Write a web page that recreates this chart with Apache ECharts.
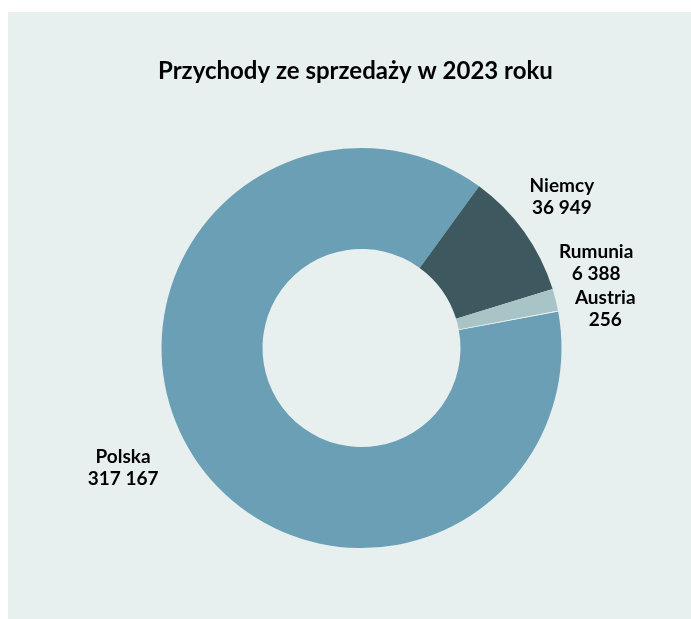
<!DOCTYPE html>
<html lang="pl">
<head>
  <meta charset="UTF-8">
  <title>Przychody ze sprzedaży w 2023 roku</title>
  <style>
    body{
      margin: 0;
      width: 691px;
      height: 619px;
      overflow: hidden;
      background-color: #fff;
    }
    #chart{
      position: absolute;
      left: 8px;
      top: 12px;
      width: 683px;
      height: 607px;
      background-color: #e7f0ef;
    }
  </style>
</head>
<body>
  <div id="chart"></div>
  <script src="https://cdn.jsdelivr.net/npm/echarts@6/dist/echarts.min.js"></script>
  <script>
// dane
const countries = ['Polska', 'Niemcy', 'Rumunia', 'Austria'];
const revenue = [317167, 36949, 6388, 256];

const colors = ['#6a9fb5', '#3d585e', '#a9c4c7', '#eef4f4'];
// przesunięcie etykiet względem środka wycinka [dx, dy]
const labelNudge = [[-27, -14], [-3, -6], [-8, -25], [-2, 7]];

const pieCenter = [353.5, 336];
const startAngle = 10.5; // stopnie, jak w echarts (od godz. 3, przeciwnie do wskazówek)
const labelRadius = 250;

let chart = echarts.init(document.getElementById('chart'));

// format "317 167"
function fmt(v) {
  return String(v).replace(/\B(?=(\d{3})+(?!\d))/g, ' ');
}

// środkowy kąt każdego wycinka (w stopniach od godz. 12, zgodnie z ruchem wskazówek)
const total = revenue.reduce((a, b) => a + b, 0);
let acc = 90 - startAngle;
const midAngles = revenue.map(v => {
  let span = v / total * 360;
  let mid = acc + span / 2;
  acc += span;
  return mid;
});

chart.setOption({
  title: {
    text: 'Przychody ze sprzedaży w 2023 roku',
    left: 145,
    top: 42,
    textStyle: {
      fontFamily: 'Lato',
      fontWeight: 'bold',
      fontSize: 24,
      color: '#000'
    }
  },
  series: [{
    type: 'pie',
    center: pieCenter,
    radius: [99, 200],
    startAngle: startAngle,
    clockwise: true,
    animation: false,
    label: {
      show: true,
      position: 'outside',
      formatter: p => p.name + '\n' + fmt(p.value),
      fontFamily: 'Lato',
      fontWeight: 'bold',
      fontSize: 19,
      lineHeight: 22,
      color: '#000',
      align: 'center'
    },
    labelLine: { show: false },
    labelLayout: params => {
      let i = params.dataIndex;
      let a = midAngles[i] * Math.PI / 180;
      return {
        x: pieCenter[0] + labelRadius * Math.sin(a) + labelNudge[i][0],
        y: pieCenter[1] - labelRadius * Math.cos(a) + labelNudge[i][1],
        align: 'center',
        verticalAlign: 'middle'
      };
    },
    itemStyle: { borderWidth: 0 },
    emphasis: { disabled: true },
    data: countries.map((c, i) => ({
      name: c,
      value: revenue[i],
      itemStyle: { color: colors[i] }
    }))
  }]
});
  </script>
</body>
</html>
